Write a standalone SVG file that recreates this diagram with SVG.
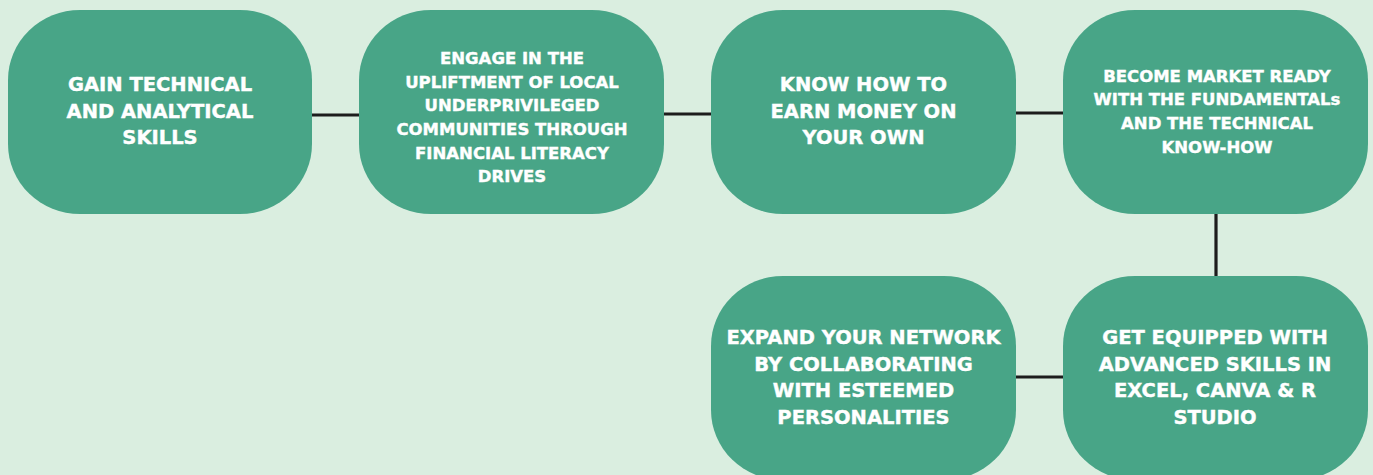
<svg xmlns="http://www.w3.org/2000/svg" width="1373" height="475" viewBox="0 0 1373 475">
<style>
.node{fill:#48A587;}
.t{font-family:"DejaVu Sans","Liberation Sans",sans-serif;font-weight:bold;fill:#ffffff;stroke:#ffffff;stroke-width:0.4;text-anchor:middle;}
.big{font-size:19.5px;}
.small{font-size:16.5px;}
.conn{stroke:#1c1c1c;stroke-width:3.2;fill:none;}
</style>
<rect x="0" y="0" width="1373" height="475" fill="#DAEEE0"/>
<g id="connectors">
<line class="conn" x1="311" y1="115" x2="360" y2="115"/>
<line class="conn" x1="663" y1="114" x2="712" y2="114"/>
<line class="conn" x1="1015" y1="113" x2="1064" y2="113"/>
<line class="conn" x1="1216" y1="213" x2="1216" y2="277"/>
<line class="conn" x1="1015" y1="377" x2="1064" y2="377"/>
</g>
<g id="node1">
<rect class="node" x="8" y="10" width="304" height="204" rx="72" ry="70"/>
<text class="t big"><tspan x="160" y="91">GAIN TECHNICAL</tspan><tspan x="160" y="117.5">AND ANALYTICAL</tspan><tspan x="160" y="144">SKILLS</tspan></text>
</g>
<g id="node2">
<rect class="node" x="359" y="10" width="305" height="204" rx="72" ry="70"/>
<text class="t small"><tspan x="512" y="64">ENGAGE IN THE</tspan><tspan x="512" y="87.7">UPLIFTMENT OF LOCAL</tspan><tspan x="512" y="111.3">UNDERPRIVILEGED</tspan><tspan x="512" y="135">COMMUNITIES THROUGH</tspan><tspan x="512" y="158.7">FINANCIAL LITERACY</tspan><tspan x="512" y="182.3">DRIVES</tspan></text>
</g>
<g id="node3">
<rect class="node" x="711" y="10" width="305" height="204" rx="72" ry="70"/>
<text class="t big"><tspan x="863.5" y="91">KNOW HOW TO</tspan><tspan x="863.5" y="117.5">EARN MONEY ON</tspan><tspan x="863.5" y="144">YOUR OWN</tspan></text>
</g>
<g id="node4">
<rect class="node" x="1063" y="10" width="305" height="204" rx="72" ry="70"/>
<text class="t small"><tspan x="1217" y="81.7">BECOME MARKET READY</tspan><tspan x="1217" y="105.3">WITH THE FUNDAMENTALs</tspan><tspan x="1217" y="129">AND THE TECHNICAL</tspan><tspan x="1217" y="152.7">KNOW-HOW</tspan></text>
</g>
<g id="node5">
<rect class="node" x="711" y="276" width="305" height="204" rx="72" ry="70"/>
<text class="t big"><tspan x="863.5" y="344">EXPAND YOUR NETWORK</tspan><tspan x="863.5" y="370.7">BY COLLABORATING</tspan><tspan x="863.5" y="397.3">WITH ESTEEMED</tspan><tspan x="863.5" y="424">PERSONALITIES</tspan></text>
</g>
<g id="node6">
<rect class="node" x="1063" y="276" width="305" height="204" rx="72" ry="70"/>
<text class="t big"><tspan x="1215" y="344">GET EQUIPPED WITH</tspan><tspan x="1215" y="370.7">ADVANCED SKILLS IN</tspan><tspan x="1215" y="397.3">EXCEL, CANVA &amp; R</tspan><tspan x="1215" y="424">STUDIO</tspan></text>
</g>
</svg>
